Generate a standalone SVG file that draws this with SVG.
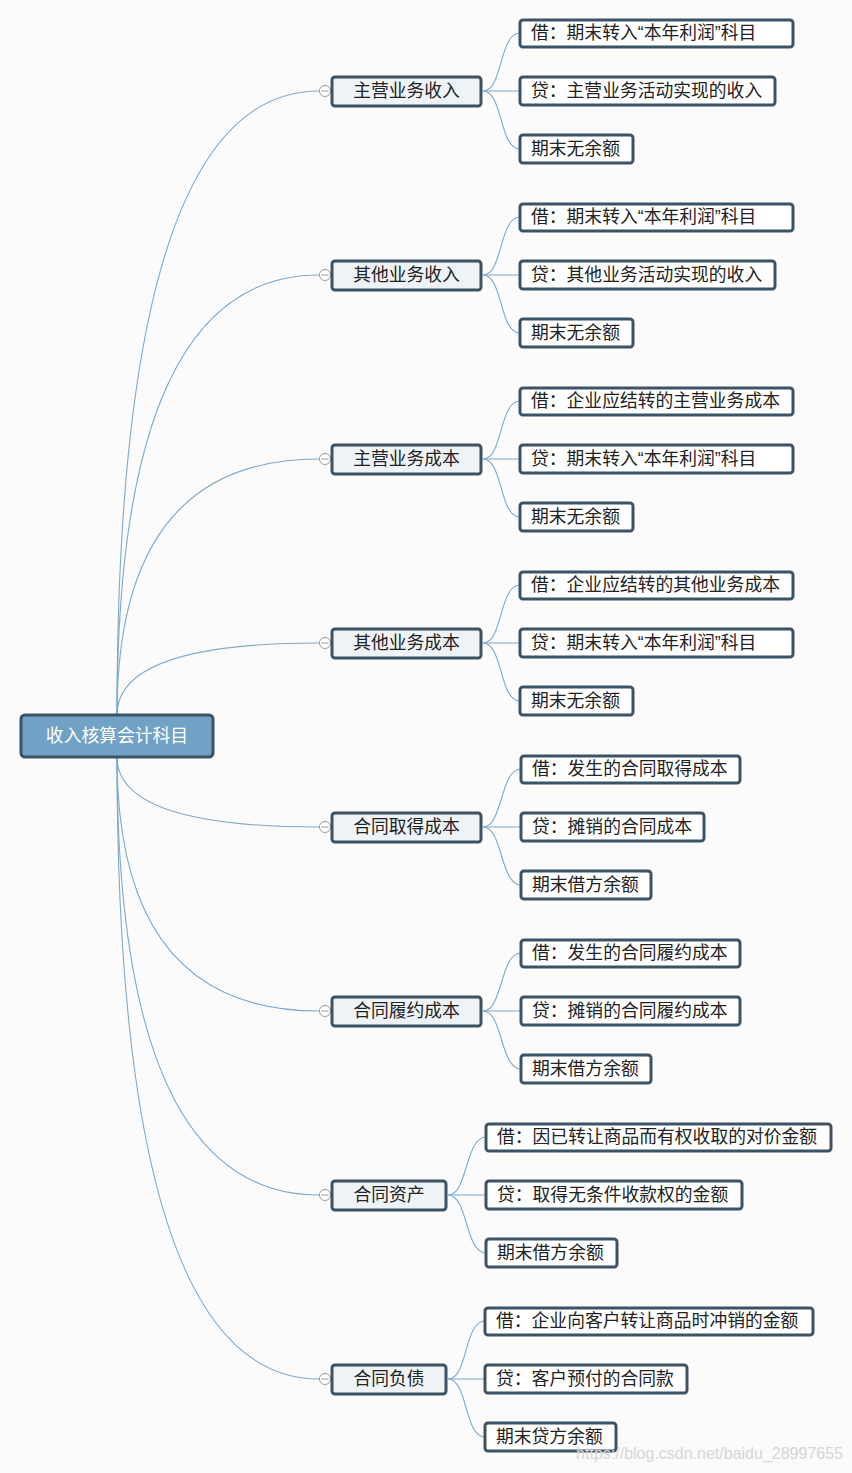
<svg xmlns="http://www.w3.org/2000/svg" width="852" height="1473" viewBox="0 0 852 1473">
<style>
.bg{fill:#fbfbfb}
.c{fill:none;stroke:#7fa9c9;stroke-width:1.1}
.root{fill:#71a1c4;stroke:#3c5366;stroke-width:3}
.l1{fill:#eef3f7;stroke:#3c5366;stroke-width:3}
.l2{fill:#ffffff;stroke:#3c5366;stroke-width:3}
.t{font-family:"Noto Sans CJK SC","Microsoft YaHei",sans-serif;font-size:17.8px;fill:#222}
.q{font-family:"Liberation Sans",Arial,sans-serif}
.tr{font-family:"Noto Sans CJK SC","Microsoft YaHei",sans-serif;font-size:17.8px;fill:#ffffff}
.k{fill:#fff;stroke:#999;stroke-width:1}
.wm{font-family:"Liberation Sans",Arial,sans-serif;font-size:16px;fill:#d6d6d6}
</style>
<defs>
<g id="knob"><circle class="k" cx="0" cy="0" r="5.5"/><line x1="-3.5" y1="0" x2="3.5" y2="0" stroke="#999" stroke-width="1"/></g>
</defs>
<rect class="bg" x="0" y="0" width="852" height="1473"/>
<g id="connectors">
<path class="c" d="M117,715 Q117,91 319,91"/>
<path class="c" d="M117,715 Q117,275 319,275"/>
<path class="c" d="M117,715 Q117,459 319,459"/>
<path class="c" d="M117,715 Q117,643 319,643"/>
<path class="c" d="M117,757 Q117,827 319,827"/>
<path class="c" d="M117,757 Q117,1011 319,1011"/>
<path class="c" d="M117,757 Q117,1195 319,1195"/>
<path class="c" d="M117,757 Q117,1379 319,1379"/>
<path class="c" d="M483,91 C503,91 499,33 520,33"/>
<path class="c" d="M483,91 L520,91"/>
<path class="c" d="M483,91 C503,91 499,149 520,149"/>
<path class="c" d="M483,275 C503,275 499,217 520,217"/>
<path class="c" d="M483,275 L520,275"/>
<path class="c" d="M483,275 C503,275 499,333 520,333"/>
<path class="c" d="M483,459 C503,459 499,401 520,401"/>
<path class="c" d="M483,459 L520,459"/>
<path class="c" d="M483,459 C503,459 499,517 520,517"/>
<path class="c" d="M483,643 C503,643 499,585 520,585"/>
<path class="c" d="M483,643 L520,643"/>
<path class="c" d="M483,643 C503,643 499,701 520,701"/>
<path class="c" d="M483,827 C503,827 500,769 521,769"/>
<path class="c" d="M483,827 L521,827"/>
<path class="c" d="M483,827 C503,827 500,885 521,885"/>
<path class="c" d="M483,1011 C503,1011 500,953 521,953"/>
<path class="c" d="M483,1011 L521,1011"/>
<path class="c" d="M483,1011 C503,1011 500,1069 521,1069"/>
<path class="c" d="M448,1195 C468,1195 465,1137 486,1137"/>
<path class="c" d="M448,1195 L486,1195"/>
<path class="c" d="M448,1195 C468,1195 465,1253 486,1253"/>
<path class="c" d="M448,1379 C468,1379 464,1321 485,1321"/>
<path class="c" d="M448,1379 L485,1379"/>
<path class="c" d="M448,1379 C468,1379 464,1437 485,1437"/>
</g>
<g id="root"><rect class="root" x="21" y="715" width="192" height="42" rx="4"/><text class="tr" x="117" y="742" text-anchor="middle">收入核算会计科目</text></g>

<g id="n1"><use href="#knob" x="325" y="91"/><rect class="l1" x="332" y="77" width="149" height="29" rx="3"/><text class="t" x="406.5" y="97" text-anchor="middle">主营业务收入</text></g>
<g id="n1a"><rect class="l2" x="520" y="20" width="273" height="27" rx="3"/><text class="t" x="531" y="39">借：期末转入<tspan class="q">“</tspan>本年利润<tspan class="q">”</tspan>科目</text></g>
<g id="n1b"><rect class="l2" x="520" y="77" width="255" height="28" rx="3"/><text class="t" x="531" y="97">贷：主营业务活动实现的收入</text></g>
<g id="n1c"><rect class="l2" x="520" y="135" width="113" height="28" rx="3"/><text class="t" x="531" y="155">期末无余额</text></g>

<g id="n2"><use href="#knob" x="325" y="275"/><rect class="l1" x="332" y="261" width="149" height="29" rx="3"/><text class="t" x="406.5" y="281" text-anchor="middle">其他业务收入</text></g>
<g id="n2a"><rect class="l2" x="520" y="204" width="273" height="27" rx="3"/><text class="t" x="531" y="223">借：期末转入<tspan class="q">“</tspan>本年利润<tspan class="q">”</tspan>科目</text></g>
<g id="n2b"><rect class="l2" x="520" y="261" width="255" height="28" rx="3"/><text class="t" x="531" y="281">贷：其他业务活动实现的收入</text></g>
<g id="n2c"><rect class="l2" x="520" y="319" width="113" height="28" rx="3"/><text class="t" x="531" y="339">期末无余额</text></g>

<g id="n3"><use href="#knob" x="325" y="459"/><rect class="l1" x="332" y="445" width="149" height="29" rx="3"/><text class="t" x="406.5" y="465" text-anchor="middle">主营业务成本</text></g>
<g id="n3a"><rect class="l2" x="520" y="388" width="273" height="27" rx="3"/><text class="t" x="531" y="407">借：企业应结转的主营业务成本</text></g>
<g id="n3b"><rect class="l2" x="520" y="445" width="273" height="28" rx="3"/><text class="t" x="531" y="465">贷：期末转入<tspan class="q">“</tspan>本年利润<tspan class="q">”</tspan>科目</text></g>
<g id="n3c"><rect class="l2" x="520" y="503" width="113" height="28" rx="3"/><text class="t" x="531" y="523">期末无余额</text></g>

<g id="n4"><use href="#knob" x="325" y="643"/><rect class="l1" x="332" y="629" width="149" height="29" rx="3"/><text class="t" x="406.5" y="649" text-anchor="middle">其他业务成本</text></g>
<g id="n4a"><rect class="l2" x="520" y="572" width="273" height="27" rx="3"/><text class="t" x="531" y="591">借：企业应结转的其他业务成本</text></g>
<g id="n4b"><rect class="l2" x="520" y="629" width="273" height="28" rx="3"/><text class="t" x="531" y="649">贷：期末转入<tspan class="q">“</tspan>本年利润<tspan class="q">”</tspan>科目</text></g>
<g id="n4c"><rect class="l2" x="520" y="687" width="113" height="28" rx="3"/><text class="t" x="531" y="707">期末无余额</text></g>

<g id="n5"><use href="#knob" x="325" y="827"/><rect class="l1" x="332" y="813" width="149" height="29" rx="3"/><text class="t" x="406.5" y="833" text-anchor="middle">合同取得成本</text></g>
<g id="n5a"><rect class="l2" x="521" y="756" width="219" height="27" rx="3"/><text class="t" x="532" y="775">借：发生的合同取得成本</text></g>
<g id="n5b"><rect class="l2" x="521" y="813" width="183" height="28" rx="3"/><text class="t" x="532" y="833">贷：摊销的合同成本</text></g>
<g id="n5c"><rect class="l2" x="521" y="871" width="130" height="28" rx="3"/><text class="t" x="532" y="891">期末借方余额</text></g>

<g id="n6"><use href="#knob" x="325" y="1011"/><rect class="l1" x="332" y="997" width="149" height="29" rx="3"/><text class="t" x="406.5" y="1017" text-anchor="middle">合同履约成本</text></g>
<g id="n6a"><rect class="l2" x="521" y="940" width="219" height="27" rx="3"/><text class="t" x="532" y="959">借：发生的合同履约成本</text></g>
<g id="n6b"><rect class="l2" x="521" y="997" width="219" height="28" rx="3"/><text class="t" x="532" y="1017">贷：摊销的合同履约成本</text></g>
<g id="n6c"><rect class="l2" x="521" y="1055" width="130" height="28" rx="3"/><text class="t" x="532" y="1075">期末借方余额</text></g>

<g id="n7"><use href="#knob" x="325" y="1195"/><rect class="l1" x="332" y="1181" width="114" height="29" rx="3"/><text class="t" x="389" y="1201" text-anchor="middle">合同资产</text></g>
<g id="n7a"><rect class="l2" x="486" y="1124" width="345" height="27" rx="3"/><text class="t" x="497" y="1143">借：因已转让商品而有权收取的对价金额</text></g>
<g id="n7b"><rect class="l2" x="486" y="1181" width="256" height="28" rx="3"/><text class="t" x="497" y="1201">贷：取得无条件收款权的金额</text></g>
<g id="n7c"><rect class="l2" x="486" y="1239" width="131" height="28" rx="3"/><text class="t" x="497" y="1259">期末借方余额</text></g>

<g id="n8"><use href="#knob" x="325" y="1379"/><rect class="l1" x="332" y="1365" width="114" height="29" rx="3"/><text class="t" x="389" y="1385" text-anchor="middle">合同负债</text></g>
<g id="n8a"><rect class="l2" x="485" y="1308" width="328" height="27" rx="3"/><text class="t" x="496" y="1327">借：企业向客户转让商品时冲销的金额</text></g>
<g id="n8b"><rect class="l2" x="485" y="1365" width="202" height="28" rx="3"/><text class="t" x="496" y="1385">贷：客户预付的合同款</text></g>
<g id="n8c"><rect class="l2" x="485" y="1423" width="131" height="28" rx="3"/><text class="t" x="496" y="1443">期末贷方余额</text></g>

<text class="wm" x="843" y="1459" text-anchor="end">https://blog.csdn.net/baidu_28997655</text>
</svg>
